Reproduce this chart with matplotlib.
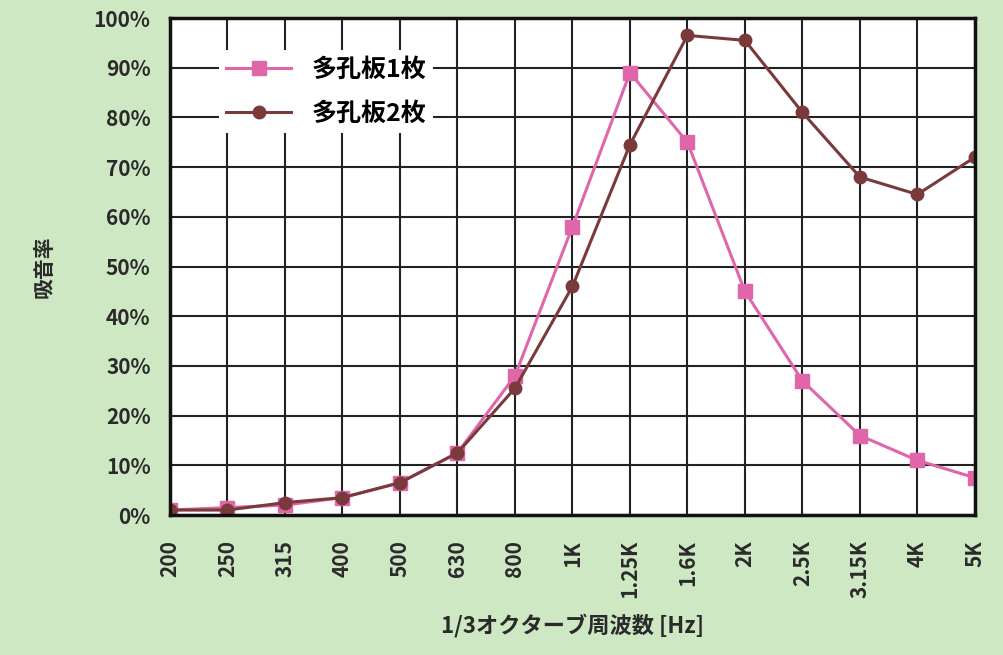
"""
Sound absorption of perforated panels, 1/3 octave bands
"""
import matplotlib
matplotlib.use('Agg')
import matplotlib.pyplot as plt
from matplotlib.ticker import FuncFormatter

plt.rcParams['font.family'] = ['Noto Sans CJK JP', 'DejaVu Sans']

freqs = ['200', '250', '315', '400', '500', '630', '800', '1K', '1.25K',
         '1.6K', '2K', '2.5K', '3.15K', '4K', '5K']
one_panel = [1, 1.5, 2, 3.5, 6.5, 12.5, 28, 58, 89, 75, 45, 27, 16, 11, 7.5]
two_panels = [1, 1, 2.5, 3.5, 6.5, 12.5, 25.5, 46, 74.5, 96.5, 95.5, 81, 68,
              64.5, 72]
label_one = '多孔板1枚'
label_two = '多孔板2枚'

bg = '#cfe8c4'
pink = '#e066aa'
brown = '#7a3a3c'
txt = '#2a2a2a'

fig = plt.figure(figsize=(10.04, 6.55), dpi=100, facecolor=bg)
ax = fig.add_axes([0.1693, 0.2137, 0.8017, 0.7588])
ax.set_facecolor('white')

x = range(len(freqs))
ax.plot(x, one_panel, color=pink, lw=2.2, marker='s', ms=10,
        mfc=pink, mec=pink, label=label_one, zorder=3)
ax.plot(x, two_panels, color=brown, lw=2.2, marker='o', ms=9,
        mfc=brown, mec=brown, label=label_two, zorder=4)

ax.set_xlim(0, len(freqs) - 1)
ax.set_ylim(0, 100)
ax.set_xticks(list(x))
ax.set_xticklabels(freqs, rotation=90, fontsize=15, color=txt,
                   fontweight='bold')
ax.set_yticks(range(0, 101, 10))
ax.yaxis.set_major_formatter(FuncFormatter(lambda v, p: f'{int(v)}%'))
for t in ax.get_yticklabels():
    t.set_fontweight('bold')
ax.tick_params(axis='y', labelsize=15, colors=txt, length=0, pad=14)
ax.tick_params(axis='x', length=0, pad=18)

ax.grid(True, color='#222222', lw=1.5)
ax.set_axisbelow(True)
for s in ax.spines.values():
    s.set_linewidth(2.5)
    s.set_color('#111111')
    s.set_zorder(5)

ax.set_ylabel('吸音率', fontsize=15, color=txt, labelpad=28,
              fontweight='bold')
ax.set_xlabel('1/3オクターブ周波数 [Hz]', fontsize=16, color=txt,
              labelpad=11, fontweight='bold')

leg = ax.legend(loc='upper left', bbox_to_anchor=(0.045, 0.96),
                prop={'size': 18, 'weight': 'bold'},
                frameon=True, framealpha=1, edgecolor='white',
                handlelength=2.6, borderpad=0.3, labelspacing=0.8)
leg.get_frame().set_linewidth(0)
leg.set_zorder(6)

fig.savefig('out.png', dpi=100, facecolor=bg)
